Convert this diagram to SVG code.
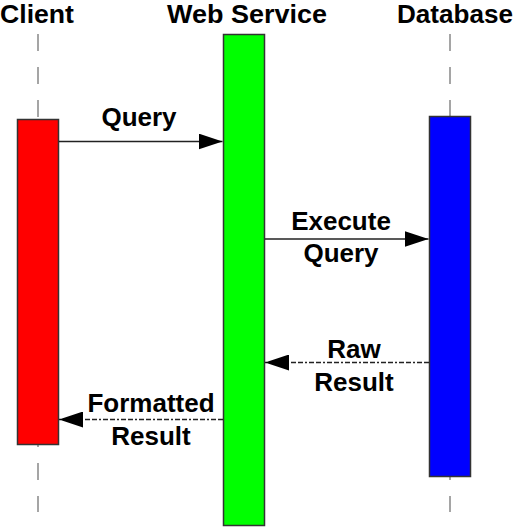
<svg xmlns="http://www.w3.org/2000/svg" width="517" height="527" viewBox="0 0 517 527">
<style>
text{font-family:"Liberation Sans",Arial,sans-serif;font-weight:bold;font-size:26px;fill:#000;text-anchor:middle}
text.hd{font-size:25px}
.life{stroke:#888;stroke-width:1.5;stroke-dasharray:17,16}
.box{stroke:#333;stroke-width:1.5}
.msg{stroke:#222;stroke-width:1.5;fill:none}
.ret{stroke-dasharray:5,2,5,2,2,2}
</style>
<defs>
<marker id="ah" markerUnits="userSpaceOnUse" markerWidth="24" markerHeight="16" refX="24" refY="8" orient="auto">
<path d="M0,0 L24,8 L0,16 Z" fill="#000"/>
</marker>
</defs>
<g id="client">
<line class="life" x1="38" y1="34" x2="38" y2="512"/>
<rect class="box" x="17.5" y="119.5" width="41" height="325" fill="#ff0000"/>
<text class="hd" x="37" y="22.7" textLength="74" lengthAdjust="spacingAndGlyphs">Client</text>
</g>
<g id="webservice">
<rect class="box" x="223.5" y="34.5" width="41" height="491" fill="#00ff00"/>
<text class="hd" x="247" y="22.7" textLength="160" lengthAdjust="spacingAndGlyphs">Web Service</text>
</g>
<g id="database">
<line class="life" x1="450" y1="34" x2="450" y2="512"/>
<rect class="box" x="429.5" y="116.5" width="41" height="360" fill="#0000ff"/>
<text class="hd" x="455" y="22.7" textLength="116" lengthAdjust="spacingAndGlyphs">Database</text>
</g>
<g id="connectors">
<line class="msg" x1="59" y1="141.5" x2="222.5" y2="141.5" marker-end="url(#ah)"/>
<text x="139" y="126">Query</text>
<line class="msg" x1="265" y1="239" x2="428.5" y2="239" marker-end="url(#ah)"/>
<text x="341" y="230">Execute</text>
<text x="341" y="262">Query</text>
<line class="msg ret" x1="429" y1="362.5" x2="265" y2="362.5" marker-end="url(#ah)"/>
<text x="354" y="358">Raw</text>
<text x="354" y="391">Result</text>
<line class="msg ret" x1="223" y1="419.5" x2="59" y2="419.5" marker-end="url(#ah)"/>
<text x="151" y="412">Formatted</text>
<text x="151" y="445">Result</text>
</g>
</svg>
